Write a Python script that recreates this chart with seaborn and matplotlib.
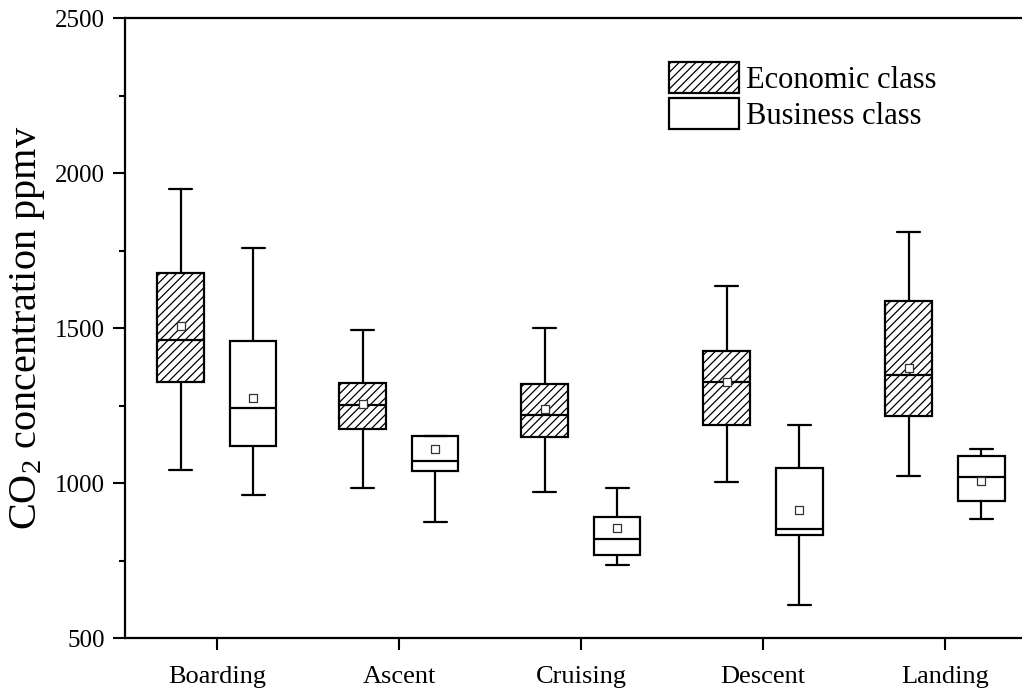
import numpy as np
import pandas as pd
import matplotlib
matplotlib.use("Agg")
import matplotlib.pyplot as plt
from matplotlib.patches import Patch
from matplotlib.ticker import MultipleLocator
import seaborn as sns

# Flight phases and cabin classes
phases = ["Boarding", "Ascent", "Cruising", "Descent", "Landing"]
classes = ["Economic class", "Business class"]

# Five-number summaries (ppmv): lower whisker, Q1, median, Q3, upper whisker
econ_low = [1042, 983, 972, 1003, 1024]
econ_q1 = [1327, 1173, 1147, 1187, 1216]
econ_med = [1463, 1252, 1219, 1326, 1349]
econ_q3 = [1676, 1322, 1320, 1426, 1588]
econ_high = [1948, 1494, 1501, 1635, 1810]
econ_mean = [1507, 1254, 1238, 1327, 1372]

bus_low = [962, 875, 735, 606, 884]
bus_q1 = [1121, 1039, 769, 832, 942]
bus_med = [1243, 1070, 820, 853, 1021]
bus_q3 = [1459, 1152, 889, 1049, 1086]
bus_high = [1758, 1152, 985, 1187, 1111]
bus_mean = [1274, 1110, 854, 913, 1006]

summaries = {
    "Economic class": (econ_low, econ_q1, econ_med, econ_q3, econ_high),
    "Business class": (bus_low, bus_q1, bus_med, bus_q3, bus_high),
}
means = {"Economic class": econ_mean, "Business class": bus_mean}

# Long tables: with five values per box, quartiles fall exactly on Q1/median/Q3
rows, mean_rows = [], []
for cls in classes:
    cols = summaries[cls]
    for i, ph in enumerate(phases):
        for v in (c[i] for c in cols):
            rows.append({"phase": ph, "cls": cls, "co2": v})
        mean_rows.append({"phase": ph, "cls": cls, "co2": means[cls][i]})
df = pd.DataFrame(rows)
df_mean = pd.DataFrame(mean_rows)

sns.set_theme(style="ticks")
plt.rcParams["font.family"] = ["Liberation Serif", "DejaVu Serif"]
plt.rcParams["mathtext.fontset"] = "custom"
plt.rcParams["mathtext.rm"] = "Liberation Serif"
plt.rcParams["mathtext.it"] = "Liberation Serif:italic"
plt.rcParams["hatch.linewidth"] = 0.9
plt.rcParams["hatch.color"] = "black"
for key in ("text.color", "axes.labelcolor", "xtick.color", "ytick.color", "axes.edgecolor"):
    plt.rcParams[key] = "black"

fig = plt.figure(figsize=(10.22, 6.95), dpi=100)
ax = fig.add_axes([0.1223, 0.082, 0.8777, 0.892])

lw = 1.6
sns.boxplot(
    data=df, x="phase", y="co2", hue="cls", order=phases, hue_order=classes,
    whis=(0, 100), width=0.8, gap=0.365, dodge=True, legend=False,
    palette={c: "white" for c in classes}, linecolor="black", linewidth=lw,
    showfliers=False, ax=ax,
)

# Hatch the economic-class boxes (left box of each pair)
for p in ax.patches:
    ext = p.get_path().get_extents()
    xc = (ext.x0 + ext.x1) / 2
    if xc - round(xc) < 0:
        p.set_hatch("////")
    p.set_edgecolor("black")
    p.set_linewidth(lw)

sns.stripplot(
    data=df_mean, x="phase", y="co2", hue="cls", order=phases, hue_order=classes,
    dodge=True, jitter=False, marker="s", size=6, legend=False,
    palette={c: "white" for c in classes}, edgecolor="#333333", linewidth=0.9,
    zorder=5, ax=ax,
)

ax.set_xlim(-0.505, 4.423)
ax.set_ylim(500, 2500)
ax.yaxis.set_major_locator(MultipleLocator(500))
ax.yaxis.set_minor_locator(MultipleLocator(250))
ax.set_xlabel("")
ax.set_ylabel("CO$_2$ concentration ppmv", fontsize=29, labelpad=6, color="black")

for s in ("left", "bottom", "top"):
    ax.spines[s].set_visible(True)
    ax.spines[s].set_linewidth(1.6)
    ax.spines[s].set_color("black")
ax.spines["right"].set_visible(False)

ax.tick_params(axis="both", which="major", direction="out", length=8.5, width=1.5,
               color="black", labelsize=18, labelcolor="black")
ax.tick_params(axis="y", pad=6)
ax.tick_params(axis="x", pad=12, labelsize=19)
ax.tick_params(axis="y", which="minor", direction="out", length=4, width=1.5, color="black")
ax.tick_params(axis="x", which="minor", bottom=False)
ax.grid(False)

handles = [
    Patch(facecolor="white", edgecolor="black", hatch="////", linewidth=1.6, label=classes[0]),
    Patch(facecolor="white", edgecolor="black", linewidth=1.6, label=classes[1]),
]
leg = ax.legend(
    handles=handles, loc="upper left", bbox_to_anchor=(0.606, 0.929),
    frameon=False, fontsize=22, borderpad=0, borderaxespad=0,
    handlelength=2.32, handleheight=1.18, handletextpad=0.2, labelspacing=0.1,
)
for t in leg.get_texts():
    t.set_color("black")

fig.savefig("out.png", dpi=100)
